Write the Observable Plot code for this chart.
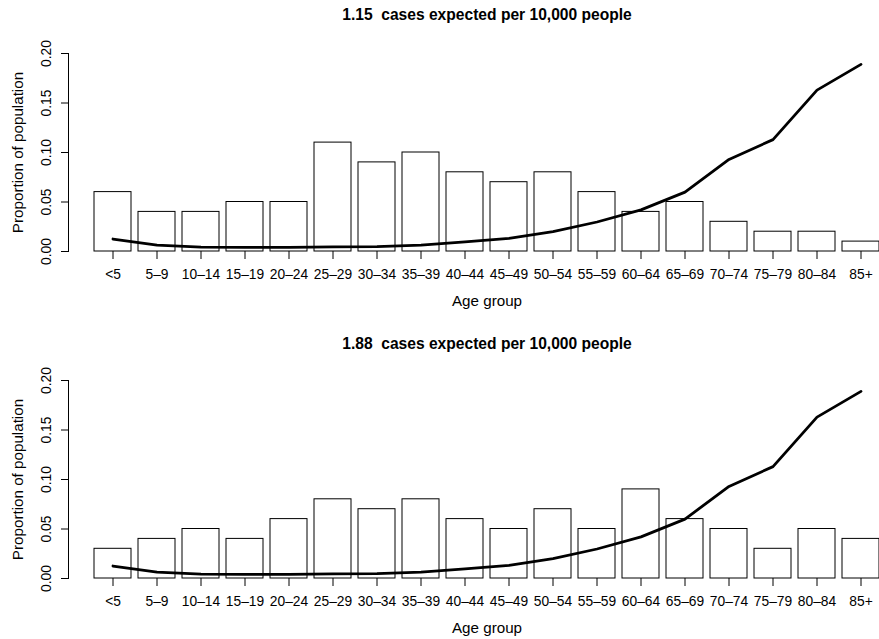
<!DOCTYPE html>
<html>
<head>
<meta charset="utf-8">
<script src="https://cdn.jsdelivr.net/npm/d3@7"></script>
<script src="https://cdn.jsdelivr.net/npm/@observablehq/plot@0.6"></script>
<style>
  body { margin: 0; background: #fff; }
  #chart { width: 879px; }
  svg { display: block; }
  svg text { white-space: pre; }
</style>
</head>
<body>
<div id="chart"></div>
<script>
const ageGroups = ["<5","5–9","10–14","15–19","20–24","25–29","30–34","35–39","40–44","45–49","50–54","55–59","60–64","65–69","70–74","75–79","80–84","85+"];
const popA = [0.06,0.04,0.04,0.05,0.05,0.11,0.09,0.10,0.08,0.07,0.08,0.06,0.04,0.05,0.03,0.02,0.02,0.01];
const popB = [0.03,0.04,0.05,0.04,0.06,0.08,0.07,0.08,0.06,0.05,0.07,0.05,0.09,0.06,0.05,0.03,0.05,0.04];
const rate = [0.0126,0.0065,0.0045,0.0042,0.0042,0.0047,0.0050,0.0065,0.0098,0.0132,0.0200,0.0298,0.0420,0.0600,0.0930,0.1130,0.1630,0.1890];
const titles = ["1.15  cases expected per 10,000 people", "1.88  cases expected per 10,000 people"];
const yTicks = [0, 0.05, 0.10, 0.15, 0.20];
const yLabel = "Proportion of population";
const xLabel = "Age group";

const font = "'Liberation Sans', Arial, Helvetica, sans-serif";
const tickFs = 13.8, labelFs = 15.2, titleFs = 15.6;

function panel(pop, title, h, mt, mb, titleDy) {
  const data = ageGroups.map((a, i) => ({age: a, p: pop[i], rate: rate[i]}));
  return Plot.plot({
    width: 879,
    height: h,
    marginLeft: 68,
    marginRight: 0,
    marginTop: mt,
    marginBottom: mb,
    style: {fontFamily: font, fontSize: "12px", background: "white", color: "black"},
    x: {domain: ageGroups, range: [94.3, 879], paddingInner: 1/6, paddingOuter: 0, align: 0.5},
    y: {domain: [0, 0.2]},
    marks: [
      Plot.barY(data, {x: "age", y: "p", fill: "white", stroke: "black", strokeWidth: 1}),
      Plot.line(data, {x: "age", y: "rate", stroke: "black", strokeWidth: 2.8}),
      Plot.frame({anchor: "left", stroke: "black"}),
      Plot.axisY({ticks: yTicks, tickSize: 7, tickFormat: () => "", label: null, stroke: "black"}),
      Plot.text(yTicks, {y: d => d, text: d => d.toFixed(2), frameAnchor: "left", dx: -21.5, rotate: -90, textAnchor: "middle", lineAnchor: "middle", fontSize: tickFs, fill: "black"}),
      Plot.text([yLabel], {text: d => d, frameAnchor: "left", dx: -50.5, rotate: -90, textAnchor: "middle", lineAnchor: "middle", fontSize: labelFs, fill: "black"}),
      Plot.axisX({tickSize: 8, tickFormat: () => "", label: null, stroke: "black"}),
      Plot.text(ageGroups, {x: d => d, text: d => d, frameAnchor: "bottom", dy: 23.5, lineAnchor: "middle", fontSize: tickFs, fill: "black"}),
      Plot.text([xLabel], {text: d => d, frameAnchor: "bottom", dx: 13, dy: 50, lineAnchor: "middle", fontSize: labelFs, fill: "black"}),
      Plot.text([title], {text: d => d, frameAnchor: "top", dx: 13, dy: titleDy, lineAnchor: "middle", fontSize: titleFs, fontWeight: "bold", fill: "black"})
    ]
  });
}

const root = document.getElementById("chart");
root.appendChild(panel(popA, titles[0], 320, 53, 69, -38.5));
root.appendChild(panel(popB, titles[1], 319, 60, 61, -37));
</script>
</body>
</html>
